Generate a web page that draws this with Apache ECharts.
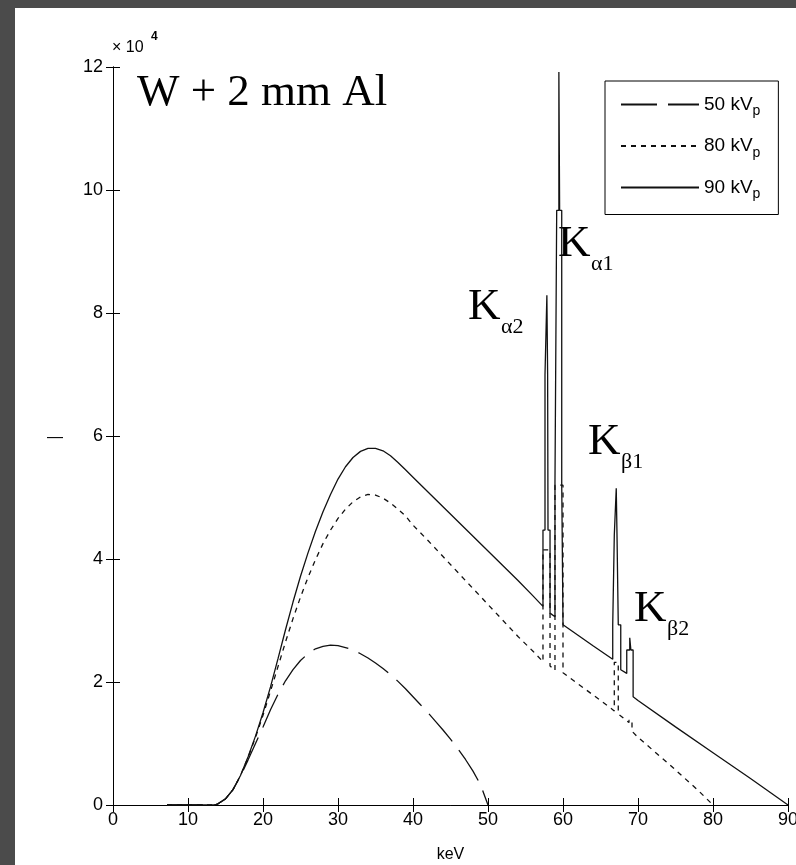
<!DOCTYPE html>
<html>
<head>
<meta charset="utf-8">
<script src="https://cdn.jsdelivr.net/npm/echarts@6/dist/echarts.min.js"></script>
<style>
html,body{margin:0;padding:0;width:796px;height:865px;overflow:hidden;background:#4b4b4b;}
#frame{position:absolute;left:15px;top:8px;width:781px;height:857px;background:#fff;}
#chart{width:781px;height:857px;}
</style>
</head>
<body>
<div id="frame"><div id="chart"></div></div>
<script>
// Tungsten-anode X-ray spectra behind 2 mm Al, photon counts per energy bin
const seriesNames = ['50 kV', '80 kV', '90 kV'];

// [keV, counts]
const spectrum50 = [
  [7.2,0],[13.5,0],[14,200],[15,1000],[16,2500],[17,4700],[18,7300],[19,10000],
  [20,12700],[21,15500],[22,18000],[23,20200],[24,22000],[25,23500],[26,24600],
  [27,25400],[28,25800],[29,26000],[30,25900],[31,25600],[32,25200],[33,24600],
  [34,23900],[35,23100],[36,22200],[37,21200],[38,20100],[39,18900],[40,17600],
  [41,16300],[42,15000],[43,13600],[44,12200],[45,10700],[46,9100],[47,7400],
  [48,5500],[49,3300],[50,0]
];

const spectrum80 = [
  [7.2,0],[13.5,0],[14,200],[15,1000],[16,2500],[17,4800],[18,7700],[19,11000],
  [20,14600],[21,18500],[22,22500],[23,26500],[24,30300],[25,33800],[26,37000],
  [27,39900],[28,42500],[29,44700],[30,46600],[31,48100],[32,49300],[33,50100],
  [34,50500],[35,50400],[36,49900],[37,49100],[38,48100],[39,47000],[40,45500],
  [42,43000],[44,40400],[46,37800],[48,35200],[50,32600],[52,30000],[54,27400],
  [56,25000],[57.33,23300],
  // K-alpha 2
  [57.33,41500],[58.27,41500],[58.27,22600],[58.93,21900],
  // K-alpha 1
  [58.93,52000],[60.0,52000],[60.0,21500],
  [62,19700],[64,17900],[66.84,15300],
  // K-beta 1
  [66.84,23200],[67.37,23200],[67.37,14800],[68.8,13400],
  // K-beta 2
  [68.8,13800],[69.2,13800],[69.2,12000],
  [70,11000],[72,8900],[74,6800],[76,4600],[78,2400],[79,1200],[80,0]
];

const spectrum90 = [
  [7.2,0],[13.5,0],[14,200],[15,1000],[16,2500],[17,4800],[18,7800],[19,11200],
  [20,15000],[21,19200],[22,23800],[23,28500],[24,33000],[25,37200],[26,41000],
  [27,44500],[28,47700],[29,50500],[30,53000],[31,55000],[32,56500],[33,57500],
  [34,58000],[35,58000],[36,57600],[37,56800],[38,55700],[39,54500],[40,53300],
  [42,50900],[44,48500],[46,46100],[48,43700],[50,41300],[52,38900],[54,36500],
  [56,34000],[57.33,32300],
  // K-alpha 2
  [57.33,44700],[57.6,44700],[57.6,70000],[57.85,70000],[57.85,82900],[57.95,82900],
  [57.95,70000],[58.0,70000],[58.0,44700],[58.27,44700],[58.27,31200],[58.93,30600],
  // K-alpha 1
  [58.93,52300],[59.16,52300],[59.16,96700],[59.45,96700],[59.45,119200],[59.55,119200],
  [59.55,96700],[59.83,96700],[59.83,52300],[60.0,52300],[60.0,29300],
  [62,27600],[64,25900],[66.63,23700],
  // K-beta 1
  [66.63,29300],[66.84,29300],[66.84,43900],[67.1,43900],[67.1,51500],[67.2,51500],
  [67.2,43900],[67.37,43900],[67.37,29300],[67.7,29300],[67.7,22000],[68.5,21400],
  // K-beta 2
  [68.5,25200],[68.9,25200],[68.9,27200],[69.05,27200],[69.05,25200],[69.35,25200],
  [69.35,17600],
  [70,17000],[75,12700],[80,8500],[85,4300],[90,0]
];

const xTicks = { min: 0, max: 90, step: 10 };
const yTicks = { min: 0, max: 120000, step: 20000, scale: 1e4 };

const lineColor = '#111';
const sans = '"Liberation Sans", Arial, sans-serif';
const serif = '"Liberation Serif", "Times New Roman", serif';

const chart = echarts.init(document.getElementById('chart'), null, { renderer: 'canvas' });

const innerAxis = {
  axisLine: { show: true, lineStyle: { color: '#000', width: 1 } },
  axisTick: { show: true, inside: true, length: 7, lineStyle: { color: '#000', width: 1 } },
  splitLine: { show: false }
};

function spectrumSeries(name, data, dash) {
  return {
    name: name,
    type: 'line',
    data: data,
    xAxisIndex: 0,
    yAxisIndex: 0,
    symbol: 'none',
    showSymbol: false,
    smooth: false,
    animation: false,
    lineStyle: { color: lineColor, width: 1.3, type: dash },
    itemStyle: { color: lineColor }
  };
}

function kLabel(x, y, main, sub) {
  return [
    { type: 'text', x: x, y: y - 15.2, silent: true,
      style: { text: main, font: '45px ' + serif, fill: '#000', align: 'left', verticalAlign: 'middle' } },
    { type: 'text', x: x + 33, y: y + 13 - 7.4, silent: true,
      style: { text: sub, font: '22px ' + serif, fill: '#000', align: 'left', verticalAlign: 'middle' } }
  ];
}

const option = {
  backgroundColor: '#fff',
  animation: false,
  grid: { left: 98, top: 59, right: 8, bottom: 60, containLabel: false, outerBoundsMode: 'none' },
  xAxis: [
    Object.assign({
      type: 'value', position: 'bottom', min: xTicks.min, max: xTicks.max, interval: xTicks.step,
      name: 'keV', nameLocation: 'middle', nameGap: 42,
      nameTextStyle: { color: '#000', fontSize: 16, fontFamily: sans },
      axisLabel: { show: true, color: '#000', fontSize: 18, fontFamily: sans, margin: 6 }
    }, innerAxis),
    Object.assign({
      type: 'value', position: 'top', min: xTicks.min, max: xTicks.max, interval: xTicks.step,
      axisLabel: { show: false }
    }, innerAxis)
  ],
  yAxis: [
    Object.assign({
      type: 'value', position: 'left', min: yTicks.min, max: yTicks.max, interval: yTicks.step,
      axisLabel: { show: true, color: '#000', fontSize: 18, fontFamily: sans, margin: 10,
        formatter: v => String(v / yTicks.scale) }
    }, innerAxis),
    Object.assign({
      type: 'value', position: 'right', min: yTicks.min, max: yTicks.max, interval: yTicks.step,
      axisLabel: { show: false }
    }, innerAxis)
  ],
  legend: {
    show: true,
    data: seriesNames,
    orient: 'vertical',
    left: 590, top: 73,
    itemWidth: 78, itemHeight: 20, itemGap: 18,
    padding: [14, 18, 13, 15],
    borderColor: '#000', borderWidth: 1, backgroundColor: '#fff',
    selectedMode: false,
    itemStyle: { opacity: 0, color: 'rgba(0,0,0,0)', borderWidth: 0 },
    formatter: name => '{a|' + name + '}{p|p}',
    textStyle: {
      color: '#000',
      rich: {
        a: { fontSize: 19, fontFamily: sans, color: '#000', lineHeight: 28 },
        p: { fontSize: 14, fontFamily: sans, color: '#000', lineHeight: 14, verticalAlign: 'bottom' }
      }
    }
  },
  series: [
    spectrumSeries(seriesNames[0], spectrum50, [36, 11]),
    spectrumSeries(seriesNames[1], spectrum80, [5, 5]),
    spectrumSeries(seriesNames[2], spectrum90, 'solid')
  ],
  graphic: [
    { type: 'text', x: 97, y: 40, silent: true,
      style: { text: '× 10', font: '16px ' + sans, fill: '#000', align: 'left', verticalAlign: 'middle' } },
    { type: 'text', x: 136, y: 29, silent: true,
      style: { text: '4', font: 'bold 12px ' + sans, fill: '#000', align: 'left', verticalAlign: 'middle' } },
    { type: 'text', x: 40, y: 430, silent: true,
      style: { text: '—', font: '16px ' + sans, fill: '#000', align: 'center', verticalAlign: 'middle' } },
    { type: 'text', x: 122, y: 100 - 15.2, silent: true,
      style: { text: 'W + 2 mm Al', font: '45px ' + serif, fill: '#000', align: 'left', verticalAlign: 'middle' } }
  ]
    .concat(kLabel(543, 251, 'K', 'α1'))
    .concat(kLabel(453, 314, 'K', 'α2'))
    .concat(kLabel(573, 449, 'K', 'β1'))
    .concat(kLabel(619, 616, 'K', 'β2'))
};

chart.setOption(option);
</script>
</body>
</html>
